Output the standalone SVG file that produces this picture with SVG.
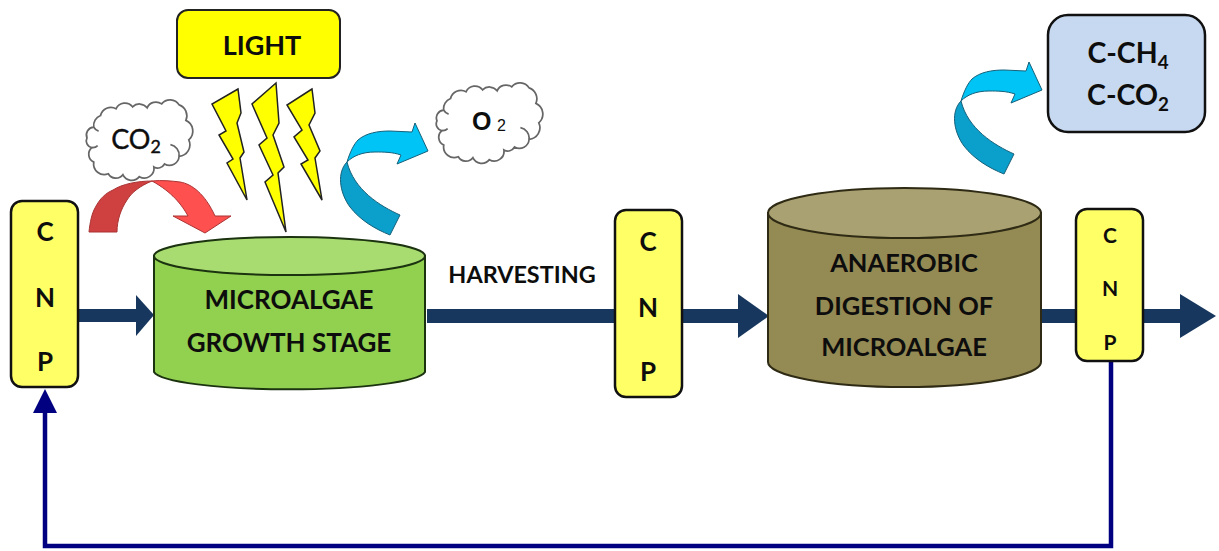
<svg xmlns="http://www.w3.org/2000/svg" width="1219" height="551" viewBox="0 0 1219 551">
<style>
text{font-family:Lato,"Liberation Sans",sans-serif;font-weight:700;fill:#0d0d0d;text-anchor:middle}
.cnp{fill:#ffff66;stroke:#111;stroke-width:2.5}
.flow{fill:#17375e}
.fb{fill:none;stroke:#000080;stroke-width:4.5}
.cloud{fill:#fff;stroke:#666;stroke-width:1.8}
.curl{fill:none;stroke:#666;stroke-width:1.8}
.bolt{fill:#ffff00;stroke:#222;stroke-width:1.5;stroke-linejoin:miter}
.edge{stroke:#1c3310;stroke-width:2}
.edge2{stroke:#2e2a14;stroke-width:2}
.l{font-size:26px}
.d{font-size:25.500px}
.c{font-size:26px}
.c3{font-size:21px}
.p{font-size:28.500px}
.s{font-size:66%}
</style>
<defs>
<g id="cl">
<path class="cloud" d="M8,27 A11,11 0 0 1 15,15 A11,11 0 0 1 31,8 A10,10 0 0 1 48,6 A10,10 0 0 1 63,7 A10,10 0 0 1 78,3 A11,11 0 0 1 96,4 A12,12 0 0 1 103,20 A12,12 0 0 1 106,40 A12,12 0 0 1 96,57 A10,10 0 0 1 81,65 A8,8 0 0 1 70,68 A10,10 0 0 1 55,78 A10,10 0 0 1 38,76 A9,9 0 0 1 23,75 A11,11 0 0 1 8,63 A9,9 0 0 1 6,48 A7,7 0 0 1 1,38 A8,8 0 0 1 8,27 Z"/>
<path class="curl" d="M96,57 A11,11 0 0 0 87,45 M8,27 A9,9 0 0 0 13,31 M6,48 A7,7 0 0 0 12,46"/>
</g>
<g id="blueArrow">
<path d="M347,162 C350,152 354,144 358,140 C366,133 378,131 390,131 L412,132 L415,123 L428,151 L397,164 L401,155 C392,152 384,152 375,152 C362,152 353,156 347,162 Z" fill="#00c4f5" stroke="#17607a" stroke-width="1"/>
<path d="M347,162 C337,172 339,192 350,207 C360,220 375,229 390,235 L400,215 C380,206 354,190 347,162 Z" fill="#0aa0cb" stroke="#17607a" stroke-width="1"/>
</g>
</defs>
<rect width="1219" height="551" fill="#fff"/>
<g id="connectors">
<rect class="flow" x="78" y="309" width="60" height="13"/>
<path class="flow" d="M136,295 L154,315 L136,336 Z"/>
<rect class="flow" x="427" y="309" width="188" height="14"/>
<rect class="flow" x="682" y="309" width="57" height="14"/>
<path class="flow" d="M738,294 L769,316 L738,338 Z"/>
<rect class="flow" x="1041" y="309" width="36" height="14"/>
<rect class="flow" x="1143" y="309" width="38" height="14"/>
<path class="flow" d="M1180,294 L1216,316 L1180,338 Z"/>
<path class="fb" d="M1111,361 V546 H45 V410"/>
<path d="M33,413 L45,389 L57,413 Z" fill="#000080"/>
<path d="M152,181 C162,180 172,181 180,182 C192,184 205,194 215,216 L231,216 L205,233 L173,216 L188,216 C182,205 172,192 152,181 Z" fill="#ff5050" stroke="#a33" stroke-width="1"/>
<path d="M89,232 C90,222 92,213 95,208 C100,198 106,193 113,190 C122,184 138,181 152,181 C140,186 132,192 127,200 C121,209 117,220 117,232 Z" fill="#cf4040" stroke="#a33" stroke-width="1"/>
<use href="#blueArrow"/>
<use href="#blueArrow" transform="translate(614,-61)"/>
</g>
<g id="light">
<rect x="177" y="10" width="163" height="68" rx="11" fill="#ffff00" stroke="#222" stroke-width="2"/>
<text x="262" y="55" style="font-size:27px">LIGHT</text>
</g>
<g id="bolts">
<path class="bolt" d="M238,89 L212,104 L226,131 L219,135 L233,159 L227,163 L247,200 L240,158 L244,152 L237,123 L241,113 Z"/>
<path class="bolt" d="M276,83 L252,104 L267,138 L259,145 L273,175 L265,182 L286,232 L278,173 L284,167 L273,135 L279,123 Z"/>
<path class="bolt" d="M312,89 L287,105 L302,130 L294,137 L308,160 L301,164 L322,200 L315,158 L320,151 L309,125 L315,113 Z"/>
</g>
<g id="cloud-co2">
<use href="#cl" transform="translate(86,101) scale(.97)"/>
<text x="136" y="149" style="font-weight:400;font-size:27px;stroke:#0d0d0d;stroke-width:.4">CO<tspan class="s" dy="4">2</tspan></text>
</g>
<g id="cloud-o2">
<use href="#cl" transform="translate(436,84) scale(.97)"/>
<text x="472" y="130" style="font-family:'Liberation Sans',sans-serif;font-size:25px;font-weight:700;text-anchor:start">O<tspan x="497" y="131" style="font-size:16px;font-weight:400">2</tspan></text>
</g>
<g id="products">
<rect x="1048" y="15" width="157" height="117" rx="20" fill="#c6d9f1" stroke="#111" stroke-width="2.500"/>
<text class="p" x="1128" y="63">C-CH<tspan class="s" dy="6">4</tspan></text>
<text class="p" x="1128" y="105">C-CO<tspan class="s" dy="6">2</tspan></text>
</g>
<g id="cnp-1">
<rect class="cnp" x="11" y="201" width="67" height="186" rx="11"/>
<text class="c" x="45" y="241">C</text>
<text class="c" x="45" y="307">N</text>
<text class="c" x="45" y="371">P</text>
</g>
<g id="cylinder-growth">
<path class="edge" d="M154,256 V372 A136,19 0 0 0 425,372 V256 Z" fill="#92d050"/>
<ellipse class="edge" cx="289.500" cy="256" rx="135.500" ry="19" fill="#a8dc70"/>
<text class="l" x="289" y="309">MICROALGAE</text>
<text class="l" x="289" y="352">GROWTH STAGE</text>
</g>
<g id="harvesting">
<text x="522" y="283" style="font-size:23.400px">HARVESTING</text>
</g>
<g id="cnp-2">
<rect class="cnp" x="615" y="210" width="67" height="187" rx="11"/>
<text class="c" x="648" y="251">C</text>
<text class="c" x="648" y="317">N</text>
<text class="c" x="648" y="381">P</text>
</g>
<g id="cylinder-digestion">
<path class="edge2" d="M768,213 V362 A136.500,25 0 0 0 1041,362 V213 Z" fill="#948a54"/>
<ellipse class="edge2" cx="904.500" cy="213" rx="136.500" ry="25" fill="#a9a172"/>
<text class="d" x="904" y="272">ANAEROBIC</text>
<text class="d" x="904" y="315">DIGESTION OF</text>
<text class="d" x="904" y="356">MICROALGAE</text>
</g>
<g id="cnp-3">
<rect class="cnp" x="1076" y="209" width="67" height="152" rx="11"/>
<text class="c3" x="1110" y="243">C</text>
<text class="c3" x="1110" y="296">N</text>
<text class="c3" x="1110" y="350">P</text>
</g>
</svg>
